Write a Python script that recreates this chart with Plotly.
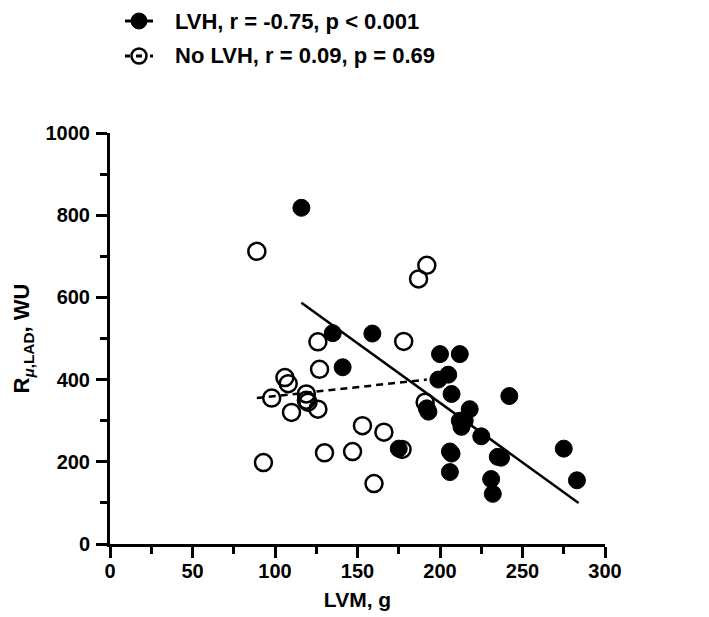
import plotly.graph_objects as go

# No LVH (open circles)
nolvh_x = [89, 93, 98, 106, 108, 110, 119, 119, 120, 126, 127, 126, 130, 147, 153, 160, 166, 177, 178, 187, 192, 191]
nolvh_y = [712, 198, 355, 405, 390, 320, 365, 350, 345, 492, 425, 328, 222, 225, 288, 147, 272, 230, 493, 645, 678, 345]

# LVH (filled circles)
lvh_x = [116, 135, 141, 159, 175, 192, 193, 199, 200, 205, 207, 206, 206, 207, 212, 212, 213, 215, 218, 225, 231, 232, 235, 237, 242, 275, 283]
lvh_y = [818, 513, 430, 512, 232, 330, 322, 400, 462, 412, 365, 225, 175, 220, 462, 300, 285, 300, 328, 262, 158, 122, 212, 210, 360, 232, 155]

# regression lines
lvh_fit_x = [116, 284]
lvh_fit_y = [587, 100]
nolvh_fit_x = [89, 192]
nolvh_fit_y = [355, 400]

x_ticks = [0, 50, 100, 150, 200, 250, 300]
y_ticks = [0, 200, 400, 600, 800, 1000]

legend_labels = ["LVH, r = -0.75, p < 0.001", "No LVH, r = 0.09, p = 0.69"]

FONT = "Liberation Sans, Arial, sans-serif"

# plot-area geometry (pixels)
L, T, W, H = 102, 125, 495, 411
FIG_W, FIG_H = 709, 617


def px_to_paper(px, py):
    return (px - L) / W, (T + H - py) / H


fig = go.Figure()
fig.add_trace(go.Scatter(x=nolvh_x, y=nolvh_y, mode="markers", name=legend_labels[1],
                         marker=dict(symbol="circle-open", size=17, color="black",
                                     line=dict(color="black", width=2.5)),
                         showlegend=False))
fig.add_trace(go.Scatter(x=lvh_x, y=lvh_y, mode="markers", name=legend_labels[0],
                         marker=dict(symbol="circle", size=17, color="black",
                                     line=dict(color="black", width=1)),
                         showlegend=False))
fig.add_trace(go.Scatter(x=lvh_fit_x, y=lvh_fit_y, mode="lines",
                         line=dict(color="black", width=2.5), showlegend=False, hoverinfo="skip"))
fig.add_trace(go.Scatter(x=nolvh_fit_x, y=nolvh_fit_y, mode="lines",
                         line=dict(color="black", width=2.5, dash="7px,5px"), showlegend=False, hoverinfo="skip"))

# legend drawn as shapes + annotations above the plot
rows = [(13, True), (48, False)]
for (row_y, filled), label in zip(rows, legend_labels):
    ax, ay = px_to_paper(131, row_y)
    common = dict(xref="paper", yref="paper", xsizemode="pixel", ysizemode="pixel",
                  xanchor=ax, yanchor=ay)
    if filled:
        fig.add_shape(type="line", x0=-14, x1=14, y0=0, y1=0,
                      line=dict(color="black", width=3), **common)
        fig.add_shape(type="circle", x0=-8, x1=8, y0=-8, y1=8,
                      fillcolor="black", line=dict(color="black", width=1), **common)
    else:
        fig.add_shape(type="line", x0=-14, x1=-9, y0=0, y1=0,
                      line=dict(color="black", width=3), **common)
        fig.add_shape(type="line", x0=-3, x1=3, y0=0, y1=0,
                      line=dict(color="black", width=3), **common)
        fig.add_shape(type="line", x0=11, x1=14, y0=0, y1=0,
                      line=dict(color="black", width=3), **common)
        fig.add_shape(type="circle", x0=-7.5, x1=7.5, y0=-7.5, y1=7.5,
                      line=dict(color="black", width=2.5), **common)
    tx, ty = px_to_paper(165, row_y)
    fig.add_annotation(x=tx, y=ty, xref="paper", yref="paper", text=label, showarrow=False,
                       xanchor="left", yanchor="middle",
                       font=dict(family=FONT, size=22, color="black", weight="bold"))

axis_common = dict(
    showline=True, linecolor="black", linewidth=3, mirror=False,
    ticks="outside", ticklen=11, tickwidth=3, tickcolor="black",
    showgrid=False, zeroline=False, automargin=False,
    tickfont=dict(family=FONT, size=20, color="black", weight="bold"),
)

fig.update_layout(
    width=FIG_W, height=FIG_H,
    paper_bgcolor="white", plot_bgcolor="white",
    margin=dict(l=L, r=FIG_W - L - W, t=T, b=FIG_H - T - H),
    font=dict(family=FONT, color="black"),
    showlegend=False,
    xaxis=dict(range=[0, 300], tickvals=x_ticks, ticklabelstandoff=-4,
               minor=dict(ticks="outside", ticklen=7, tickwidth=3, tickcolor="black", dtick=25, tick0=0),
               title=dict(text="LVM, g", font=dict(family=FONT, size=21, color="black", weight="bold"), standoff=12),
               **axis_common),
    yaxis=dict(range=[0, 1000], tickvals=y_ticks, ticklabelstandoff=2,
               minor=dict(ticks="outside", ticklen=7, tickwidth=3, tickcolor="black", dtick=100, tick0=0),
               title=dict(text="R<sub><i>μ</i>,LAD</sub>, WU", font=dict(family=FONT, size=22, color="black", weight="bold"), standoff=10),
               **axis_common),
)

fig.write_html("out.html")
